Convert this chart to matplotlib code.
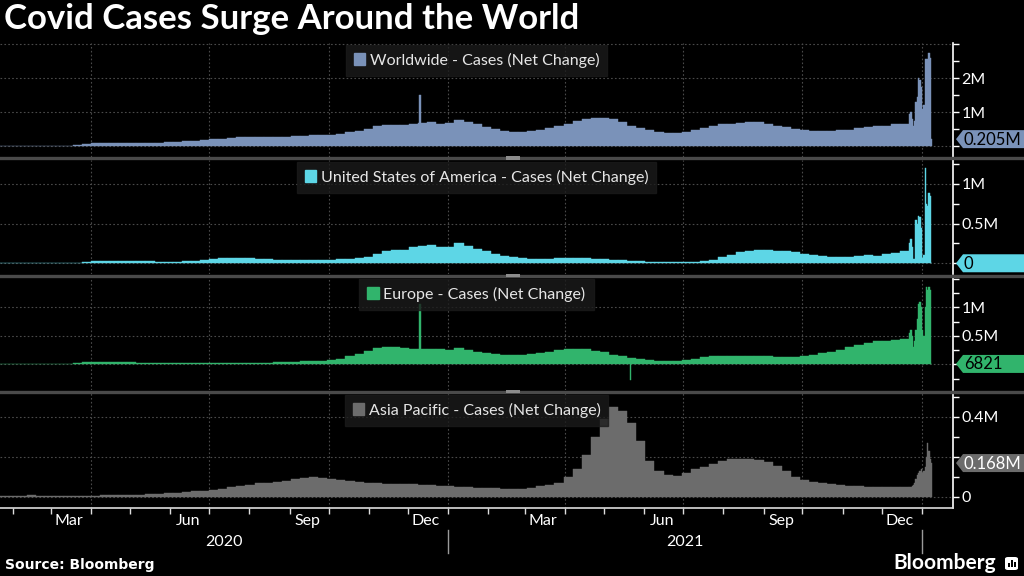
import pandas as pd
import matplotlib
matplotlib.use('Agg')
import matplotlib.pyplot as plt
import matplotlib.dates as mdates
import matplotlib.transforms as mtransforms
from matplotlib.patches import Patch, Polygon, Rectangle, FancyBboxPatch
from matplotlib.lines import Line2D

plt.rcParams['font.family'] = ['Lato', 'DejaVu Sans']

week_start = pd.date_range('2020-01-22', periods=100, freq='7D')
tail_days = pd.date_range('2021-12-22', '2022-01-08', freq='D')

worldwide_weekly = [
    0.002, 0.003, 0.003, 0.006, 0.002, 0.003, 0.006, 0.015, 0.03, 0.06,
    0.08, 0.085, 0.085, 0.085, 0.09, 0.09, 0.095, 0.105, 0.115, 0.125,
    0.14, 0.16, 0.18, 0.2, 0.22, 0.24, 0.27, 0.27, 0.27, 0.27,
    0.27, 0.28, 0.29, 0.31, 0.32, 0.32, 0.33, 0.36, 0.4, 0.44,
    0.5, 0.6, 0.62, 0.63, 0.62, 0.64, 0.68, 0.7, 0.64, 0.68,
    0.78, 0.72, 0.64, 0.56, 0.5, 0.43, 0.4, 0.41, 0.44, 0.48,
    0.54, 0.6, 0.66, 0.74, 0.8, 0.84, 0.84, 0.8, 0.72, 0.6,
    0.52, 0.46, 0.42, 0.39, 0.38, 0.4, 0.48, 0.54, 0.6, 0.64,
    0.66, 0.68, 0.7, 0.7, 0.66, 0.6, 0.56, 0.5, 0.47, 0.44,
    0.43, 0.44, 0.46, 0.48, 0.52, 0.56, 0.58, 0.6, 0.64, 0.66]
worldwide_tail = [0.95, 1.0, 0.8, 0.6, 0.75, 1.3, 1.45, 2.0, 1.95, 1.75,
                  1.1, 1.2, 2.55, 2.55, 2.55, 2.75, 2.6, 0.205]
worldwide_spikes = [('2020-12-10', 1.5)]

us_weekly = [
    0, 0, 0, 0, 0, 0, 0.0003, 0.002, 0.008, 0.02,
    0.03, 0.032, 0.03, 0.03, 0.028, 0.025, 0.024, 0.022, 0.021, 0.022,
    0.023, 0.03, 0.04, 0.052, 0.062, 0.068, 0.068, 0.062, 0.056, 0.053,
    0.045, 0.043, 0.04, 0.036, 0.042, 0.045, 0.045, 0.05, 0.06, 0.068,
    0.085, 0.12, 0.15, 0.17, 0.165, 0.2, 0.215, 0.225, 0.2, 0.21,
    0.26, 0.22, 0.18, 0.15, 0.12, 0.095, 0.075, 0.07, 0.06, 0.055,
    0.056, 0.062, 0.065, 0.068, 0.066, 0.058, 0.05, 0.045, 0.036, 0.03,
    0.024, 0.018, 0.015, 0.013, 0.013, 0.014, 0.02, 0.03, 0.045, 0.075,
    0.11, 0.14, 0.16, 0.17, 0.17, 0.16, 0.16, 0.14, 0.115, 0.1,
    0.09, 0.08, 0.078, 0.08, 0.09, 0.1, 0.09, 0.12, 0.13, 0.15]
us_tail = [0.26, 0.3, 0.2, 0.05, 0.06, 0.55, 0.5, 0.6, 0.58, 0.45,
           0.07, 0.1, 1.2, 0.75, 0.72, 0.88, 0.85, 0.0]
us_spikes = []

europe_weekly = [
    0, 0, 0, 0, 0, 0.0005, 0.002, 0.01, 0.025, 0.04,
    0.045, 0.045, 0.045, 0.04, 0.035, 0.03, 0.026, 0.022, 0.02, 0.018,
    0.017, 0.018, 0.019, 0.018, 0.018, 0.02, 0.022, 0.024, 0.026, 0.03,
    0.035, 0.038, 0.042, 0.05, 0.055, 0.06, 0.075, 0.1, 0.14, 0.18,
    0.23, 0.28, 0.3, 0.3, 0.28, 0.27, 0.27, 0.27, 0.26, 0.25,
    0.28, 0.25, 0.22, 0.2, 0.18, 0.16, 0.16, 0.17, 0.18, 0.2,
    0.22, 0.25, 0.26, 0.27, 0.27, 0.24, 0.21, 0.17, 0.14, 0.11,
    0.085, 0.07, 0.06, 0.055, 0.06, 0.075, 0.1, 0.12, 0.14, 0.14,
    0.14, 0.14, 0.14, 0.14, 0.14, 0.13, 0.13, 0.13, 0.14, 0.16,
    0.19, 0.22, 0.25, 0.3, 0.33, 0.38, 0.4, 0.41, 0.42, 0.44]
europe_tail = [0.55, 0.6, 0.5, 0.3, 0.4, 0.6, 0.8, 1.05, 1.1, 1.0,
               0.6, 0.5, 1.0, 1.35, 1.3, 1.35, 1.3, 0.006821]
europe_spikes = [('2020-12-10', 1.05), ('2021-05-21', -0.27)]

asia_weekly = [
    0.003, 0.004, 0.004, 0.01, 0.002, 0.002, 0.002, 0.002, 0.003, 0.004,
    0.005, 0.006, 0.007, 0.007, 0.008, 0.01, 0.012, 0.014, 0.016, 0.019,
    0.022, 0.026, 0.03, 0.035, 0.04, 0.048, 0.055, 0.06, 0.066, 0.07,
    0.074, 0.08, 0.088, 0.095, 0.098, 0.095, 0.09, 0.085, 0.078, 0.072,
    0.068, 0.066, 0.065, 0.064, 0.062, 0.062, 0.06, 0.058, 0.055, 0.052,
    0.05, 0.047, 0.045, 0.043, 0.041, 0.038, 0.038, 0.04, 0.045, 0.052,
    0.058, 0.07, 0.1, 0.14, 0.21, 0.3, 0.39, 0.45, 0.43, 0.37,
    0.28, 0.18, 0.13, 0.11, 0.105, 0.12, 0.14, 0.15, 0.165, 0.18,
    0.19, 0.19, 0.19, 0.185, 0.175, 0.155, 0.13, 0.1, 0.085, 0.075,
    0.068, 0.062, 0.058, 0.055, 0.052, 0.05, 0.05, 0.048, 0.048, 0.049]
asia_tail = [0.05, 0.05, 0.055, 0.06, 0.07, 0.09, 0.11, 0.12, 0.13, 0.14,
             0.12, 0.13, 0.15, 0.2, 0.27, 0.23, 0.19, 0.168]
asia_spikes = []

labels = ['Worldwide - Cases (Net Change)',
          'United States of America - Cases (Net Change)',
          'Europe - Cases (Net Change)',
          'Asia Pacific - Cases (Net Change)']
last_labels = ['0.205M', '0', '6821', '0.168M']

month_label_dates = ['2020-03-15', '2020-06-15', '2020-09-15', '2020-12-15',
                     '2021-03-15', '2021-06-15', '2021-09-15', '2021-12-15']
month_labels = ['Mar', 'Jun', 'Sep', 'Dec', 'Mar', 'Jun', 'Sep', 'Dec']

# --- layout / style ---
W, H = 1024, 576
colors = ['#7a92b9', '#5dd6e6', '#31b46c', '#6c6c6c']
tag_text = ['black', 'black', 'black', 'white']
panel_px = [(43, 157), (160, 274), (277, 390), (393, 508)]
ylims = [(-0.32, 3.03), (-0.135, 1.30), (-0.45, 1.53), (-0.0565, 0.518)]
major = [[0, 1, 2, 3], [0, 0.5, 1], [0, 0.5, 1], [0, 0.2, 0.4]]
# 0.2M in the last panel sits under the value tag, as in the original
major_lbl = [['', '1M', '2M', ''], ['', '0.5M', '1M'], ['', '0.5M', '1M'], ['0', '', '0.4M']]
minor = [[0.5, 1.5, 2.5], [0.25, 0.75, 1.25], [-0.25, 0.25, 0.75, 1.25, 1.5], [0.1, 0.3, 0.5]]
quarter_lines = ['2020-04-01', '2020-07-01', '2020-10-01', '2021-01-01',
                 '2021-04-01', '2021-07-01', '2021-10-01', '2022-01-01']
grid_col = '#4a4a4a'

weekly = [worldwide_weekly, us_weekly, europe_weekly, asia_weekly]
tails = [worldwide_tail, us_tail, europe_tail, asia_tail]
spikes = [worldwide_spikes, us_spikes, europe_spikes, asia_spikes]

fig = plt.figure(figsize=(W / 100, H / 100), dpi=100, facecolor='black')
x_left = mdates.date2num(pd.Timestamp('2020-01-22'))
x_right = mdates.date2num(pd.Timestamp('2022-01-01')) + 23.9
wk = mdates.date2num(week_start)
td = mdates.date2num(tail_days)

axes = []
for i in range(4):
    top, bot = panel_px[i]
    ax = fig.add_axes([0, 1 - bot / H, 953 / W, (bot - top) / H])
    ax.set_facecolor('black')
    c = colors[i]
    ax.bar(wk, weekly[i], width=7, align='edge', color=c, edgecolor=c, linewidth=0.3, zorder=2)
    ax.bar(td, tails[i], width=1, align='edge', color=c, edgecolor=c, linewidth=0.3, zorder=2)
    for d, v in spikes[i]:
        ax.bar(mdates.date2num(pd.Timestamp(d)), v, width=1, align='edge', color=c,
               edgecolor=c, linewidth=0.3, zorder=2)

    ax.set_xlim(x_left, x_right)
    ax.set_ylim(*ylims[i])
    for q in quarter_lines:
        ax.axvline(mdates.date2num(pd.Timestamp(q)), color=grid_col, ls=(0, (1.5, 2)), lw=0.8, zorder=0.5)
    ax.set_axisbelow(True)
    ax.yaxis.grid(True, which='major', color=grid_col, ls=(0, (1.5, 2)), lw=0.8)

    ax.yaxis.tick_right()
    ax.set_yticks(major[i])
    ax.set_yticklabels(major_lbl[i])
    ax.set_yticks(minor[i], minor=True)
    ax.tick_params(axis='y', which='both', colors='white', direction='out', length=4,
                   width=1, labelsize=11.5, pad=2)
    for s in ['top', 'left', 'bottom']:
        ax.spines[s].set_visible(False)
    ax.spines['right'].set_color('white')
    ax.spines['right'].set_linewidth(1.2)

    leg = ax.legend(handles=[Patch(facecolor=c, edgecolor=c, label=labels[i])],
                    loc='upper center', bbox_to_anchor=(0.5, 1.0), frameon=True,
                    facecolor='#1b1b1b', edgecolor='#1b1b1b', framealpha=0.8, fancybox=False,
                    fontsize=11.5, handlelength=0.7, handleheight=0.7, handletextpad=0.3,
                    borderpad=0.5, borderaxespad=0.1, labelcolor='#e6e6e6')
    leg.set_zorder(5)
    axes.append(ax)

# bottom time axis
ax = axes[3]
ax.spines['bottom'].set_visible(True)
ax.spines['bottom'].set_color('#dddddd')
ax.spines['bottom'].set_linewidth(1.2)
month_starts = mdates.date2num(pd.date_range('2020-02-01', '2022-01-01', freq='MS'))
ax.set_xticks(month_starts)
ax.set_xticklabels([])
ax.tick_params(axis='x', direction='out', length=4, width=1, colors='#dddddd')
for a in axes[:3]:
    a.set_xticks([])

bt = mtransforms.blended_transform_factory(ax.transData, fig.transFigure)
for d, m in zip(month_label_dates, month_labels):
    ax.text(mdates.date2num(pd.Timestamp(d)), 1 - 521 / H, m, transform=bt,
            ha='center', va='center', color='white', fontsize=11.5)
j2021 = mdates.date2num(pd.Timestamp('2021-01-01'))
j2022 = mdates.date2num(pd.Timestamp('2022-01-01'))
ax.text((x_left + j2021) / 2, 1 - 542 / H, '2020', transform=bt, ha='center', va='center',
        color='white', fontsize=11.5)
ax.text((j2021 + j2022) / 2, 1 - 542 / H, '2021', transform=bt, ha='center', va='center',
        color='white', fontsize=11.5)
for xd in [j2021, j2022]:
    ax.add_line(Line2D([xd, xd], [1 - 530 / H, 1 - 553 / H], transform=bt, color='#9a9a9a',
                       lw=1, clip_on=False))

# separators between panels
for y in [158, 275.5, 391.5]:
    fig.add_artist(Line2D([0, 1], [1 - y / H, 1 - y / H], transform=fig.transFigure,
                          color='#4a4a4a', lw=2.4, zorder=4))
    fig.add_artist(Rectangle((506 / W, 1 - (y + 1.5) / H), 14 / W, 3 / H,
                             transform=fig.transFigure, facecolor='#8c8c8c',
                             edgecolor='none', zorder=4.5))

# last-value tags on the right axis
last_values = [worldwide_tail[-1], us_tail[-1], europe_tail[-1], asia_tail[-1]]
for i, ax in enumerate(axes):
    yc = ax.transData.transform((x_left, last_values[i]))[1]
    h = 9
    verts = [(956, yc), (963, yc + h), (1024, yc + h), (1024, yc - h), (963, yc - h)]
    fig.add_artist(Polygon([(x / W, y / H) for x, y in verts], closed=True,
                           transform=fig.transFigure, facecolor=colors[i],
                           edgecolor='none', zorder=6))
    fig.text(964 / W, (yc - 0.5) / H, last_labels[i], color=tag_text[i], ha='left',
             va='center', fontsize=12, zorder=7)

# titles and footer
fig.text(4 / W, 1 - 19 / H, 'Covid Cases Surge Around the World', fontsize=25,
         fontweight='bold', color='white', ha='left', va='center')
fig.text(5 / W, 1 - 565 / H, 'Source: Bloomberg', fontsize=10, fontweight='bold',
         color='white', ha='left', va='center', family='DejaVu Sans')
fig.text(996 / W, 1 - 563 / H, 'Bloomberg', fontsize=15, fontweight='bold',
         color='white', ha='right', va='center')
fig.add_artist(FancyBboxPatch((1005 / W, 1 - 570 / H), 13 / W, 13 / H,
                              boxstyle='round,pad=0,rounding_size=0.003',
                              transform=fig.transFigure, facecolor='white', edgecolor='none'))
for k, bh in enumerate([4, 7, 5]):
    fig.add_artist(Rectangle(((1008 + 3 * k) / W, 1 - 567 / H), 2 / W, bh / H,
                             transform=fig.transFigure, facecolor='black', edgecolor='none'))

fig.savefig('out.png', dpi=100, facecolor='black')
